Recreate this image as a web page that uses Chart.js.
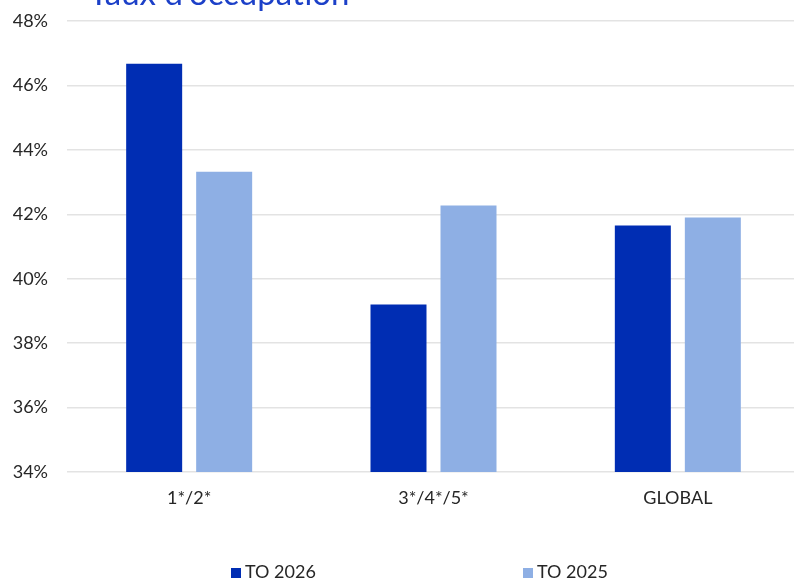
<!DOCTYPE html>
<html>
<head>
<meta charset="utf-8">
<script src="https://cdn.jsdelivr.net/npm/chart.js@4"></script>
<style>
  html, body { margin: 0; padding: 0; background: #fff; overflow: hidden; }
  #wrap { position: relative; width: 800px; height: 579px; }
  #titre { position: absolute; left: 89px; top: -28px; font: 33px Lato, sans-serif; color: #1c40c8; white-space: nowrap; }
  #legende { position: absolute; top: 560px; left: 0; width: 794px; font: 18px Lato, sans-serif; color: #262626; }
  .item { position: absolute; white-space: nowrap; }
  .item span.box { display: inline-block; width: 10px; height: 10px; margin-right: 4px; }
</style>
</head>
<body>
<div id="wrap">
  <canvas id="grafica" width="800" height="579"></canvas>
  <div id="titre">Taux d'occupation</div>
  <div id="legende"></div>
</div>
<script>
var categories = ['1*/2*', '3*/4*/5*', 'GLOBAL'];
var to2026 = [46.67, 39.2, 41.65];
var to2025 = [43.32, 42.27, 41.9];
var etiquettes = ['TO 2026', 'TO 2025'];
var couleurs = ['#002db3', '#8eafe4'];

var ctx = document.getElementById('grafica').getContext('2d');
var grafica = new Chart(ctx, {
    type: 'bar',
    data: {
        labels: categories,
        datasets: [{
            label: etiquettes[0],
            data: to2026,
            backgroundColor: couleurs[0],
            categoryPercentage: 0.573,
            barPercentage: 0.8
        }, {
            label: etiquettes[1],
            data: to2025,
            backgroundColor: couleurs[1],
            categoryPercentage: 0.573,
            barPercentage: 0.8
        }]
    },
    options: {
        responsive: false,
        animation: false,
        layout: { padding: { left: 12, right: 0, top: 21, bottom: 74 } },
        plugins: {
            legend: { display: false },
            tooltip: { enabled: false }
        },
        scales: {
            x: {
                grid: { display: false },
                border: { display: false },
                ticks: { color: '#262626', font: { family: 'Lato', size: 18 }, padding: 7 },
                afterFit: function (scale) {
                    scale.height = 33;
                    scale.paddingLeft = 0;
                    scale.paddingRight = 0;
                }
            },
            y: {
                min: 34,
                max: 48,
                border: { display: false },
                grid: { color: '#e3e3e3', lineWidth: 1.5, drawTicks: false },
                ticks: {
                    stepSize: 2,
                    padding: 19,
                    color: '#262626',
                    font: { family: 'Lato', size: 18 },
                    callback: function (v) { return v + '%'; }
                },
                afterFit: function (scale) {
                    scale.width = 55;
                    scale.paddingTop = 0;
                    scale.paddingBottom = 0;
                }
            }
        }
    }
});

// legende en HTML pour garder le grand espacement
var positions = [231, 523];
var legende = document.getElementById('legende');
grafica.data.datasets.forEach(function (ds, i) {
    var item = document.createElement('div');
    item.className = 'item';
    item.style.left = positions[i] + 'px';
    var box = document.createElement('span');
    box.className = 'box';
    box.style.background = ds.backgroundColor;
    item.appendChild(box);
    item.appendChild(document.createTextNode(ds.label));
    legende.appendChild(item);
});
</script>
</body>
</html>
